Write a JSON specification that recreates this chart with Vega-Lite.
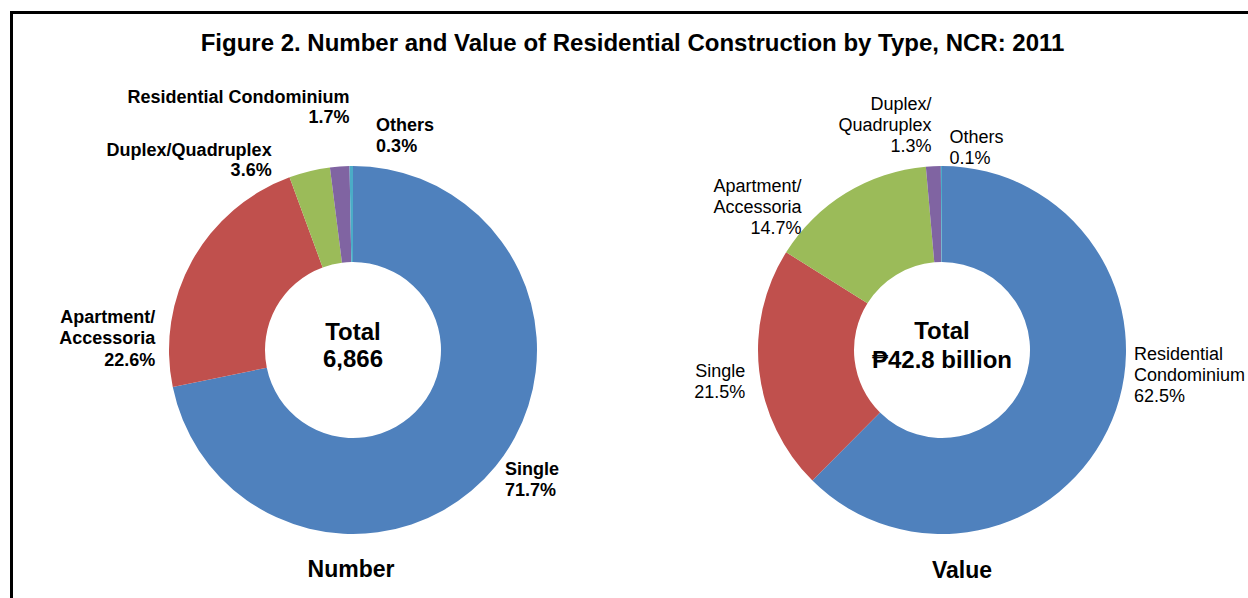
{
  "$schema": "https://vega.github.io/schema/vega-lite/v6.json",
  "width": 1237,
  "height": 586,
  "autosize": {"type": "none"},
  "padding": {"left": 11, "top": 12, "right": 0, "bottom": 0},
  "background": "white",
  "title": {
    "text": "Figure 2. Number and Value of Residential Construction by Type, NCR: 2011",
    "font": "Liberation Sans",
    "fontSize": 24,
    "fontWeight": "bold",
    "color": "#000000",
    "anchor": "middle",
    "frame": "group",
    "baseline": "alphabetic",
    "offset": -39,
    "dx": 3,
    "dy": 23.5
  },
  "config": {
    "view": {"stroke": null},
    "font": "Liberation Sans",
    "text": {"font": "Liberation Sans", "color": "#000000"}
  },
  "datasets": {
    "number": [
      {"type": "Single", "pct": 71.7, "label": "Single\n71.7%"},
      {"type": "Apartment/Accessoria", "pct": 22.6, "label": "Apartment/\nAccessoria\n22.6%"},
      {"type": "Duplex/Quadruplex", "pct": 3.6, "label": "Duplex/Quadruplex\n3.6%"},
      {"type": "Residential Condominium", "pct": 1.7, "label": "Residential Condominium\n1.7%"},
      {"type": "Others", "pct": 0.3, "label": "Others\n0.3%"}
    ],
    "value": [
      {"type": "Residential Condominium", "pct": 62.5, "label": "Residential\nCondominium\n62.5%"},
      {"type": "Single", "pct": 21.5, "label": "Single\n21.5%"},
      {"type": "Apartment/Accessoria", "pct": 14.7, "label": "Apartment/\nAccessoria\n14.7%"},
      {"type": "Duplex/Quadruplex", "pct": 1.3, "label": "Duplex/\nQuadruplex\n1.3%"},
      {"type": "Others", "pct": 0.1, "label": "Others\n0.1%"}
    ]
  },
  "layer": [
    {
      "data": {"name": "number"},
      "encoding": {
        "x": {"datum": "Number", "type": "nominal",
          "scale": {"type": "point", "domain": ["Number", "Value"], "padding": 0.55008, "align": 0.52778},
          "axis": {"orient": "top", "domain": true, "domainColor": "#000000", "domainWidth": 3, "domainCap": "square", "ticks": false, "labels": false, "grid": false, "title": null}},
        "y": {"datum": "pie", "type": "nominal",
          "scale": {"type": "point", "domain": ["pie", "caption"], "padding": 0.78791, "align": 0.94282},
          "axis": {"orient": "left", "domain": true, "domainColor": "#000000", "domainWidth": 3, "domainCap": "square", "ticks": false, "labels": false, "grid": false, "title": null}}
      },
      "layer": [
        {
          "mark": {"type": "arc", "innerRadius": 88, "outerRadius": 184},
          "encoding": {
            "theta": {"field": "pct", "type": "quantitative", "stack": true},
            "order": {"field": "pct", "sort": "descending"},
            "color": {"field": "type", "type": "nominal", "legend": null,
              "scale": {"domain": ["Single", "Apartment/Accessoria", "Duplex/Quadruplex", "Residential Condominium", "Others"],
                "range": ["#4F81BD", "#C0504D", "#9BBB59", "#8064A2", "#4BACC6"]}}
          }
        },
        {
          "mark": {"type": "text", "radius": 200, "align": "left", "baseline": "alphabetic", "dx": -3, "dy": -1, "lineBreak": "\n", "lineHeight": 20.5, "fontSize": 18, "fontWeight": "bold", "font": "Liberation Sans"},
          "encoding": {
            "theta": {"field": "pct", "type": "quantitative", "stack": true},
            "order": {"field": "pct", "sort": "descending"},
            "detail": {"field": "type"},
            "text": {"condition": {"test": "datum.type === 'Single'", "field": "label", "type": "nominal"}, "value": ""}
          }
        },
        {
          "mark": {"type": "text", "radius": 200, "align": "right", "baseline": "alphabetic", "dx": -23, "dy": 70, "lineBreak": "\n", "lineHeight": 21.5, "fontSize": 18, "fontWeight": "bold", "font": "Liberation Sans"},
          "encoding": {
            "theta": {"field": "pct", "type": "quantitative", "stack": true},
            "order": {"field": "pct", "sort": "descending"},
            "detail": {"field": "type"},
            "text": {"condition": {"test": "datum.type === 'Apartment/Accessoria'", "field": "label", "type": "nominal"}, "value": ""}
          }
        },
        {
          "mark": {"type": "text", "radius": 200, "align": "right", "baseline": "alphabetic", "dx": -34, "dy": 0, "lineBreak": "\n", "lineHeight": 20, "fontSize": 18, "fontWeight": "bold", "font": "Liberation Sans"},
          "encoding": {
            "theta": {"field": "pct", "type": "quantitative", "stack": true},
            "order": {"field": "pct", "sort": "descending"},
            "detail": {"field": "type"},
            "text": {"condition": {"test": "datum.type === 'Duplex/Quadruplex'", "field": "label", "type": "nominal"}, "value": ""}
          }
        },
        {
          "mark": {"type": "text", "radius": 200, "align": "right", "baseline": "alphabetic", "dx": 11, "dy": -48, "lineBreak": "\n", "lineHeight": 20.5, "fontSize": 18, "fontWeight": "bold", "font": "Liberation Sans"},
          "encoding": {
            "theta": {"field": "pct", "type": "quantitative", "stack": true},
            "order": {"field": "pct", "sort": "descending"},
            "detail": {"field": "type"},
            "text": {"condition": {"test": "datum.type === 'Residential Condominium'", "field": "label", "type": "nominal"}, "value": ""}
          }
        },
        {
          "mark": {"type": "text", "radius": 200, "align": "left", "baseline": "alphabetic", "dx": 25, "dy": -19, "lineBreak": "\n", "lineHeight": 20.5, "fontSize": 18, "fontWeight": "bold", "font": "Liberation Sans"},
          "encoding": {
            "theta": {"field": "pct", "type": "quantitative", "stack": true},
            "order": {"field": "pct", "sort": "descending"},
            "detail": {"field": "type"},
            "text": {"condition": {"test": "datum.type === 'Others'", "field": "label", "type": "nominal"}, "value": ""}
          }
        },
        {
          "data": {"values": [{"caption": "Number", "total": "Total\n6,866"}]},
          "layer": [
            {
              "mark": {"type": "text", "align": "center", "baseline": "alphabetic", "dy": -10, "lineBreak": "\n", "lineHeight": 27, "fontSize": 24, "fontWeight": "bold", "font": "Liberation Sans"},
              "encoding": {"text": {"field": "total", "type": "nominal"}}
            },
            {
              "mark": {"type": "text", "align": "center", "baseline": "alphabetic", "dx": -2, "dy": -1, "fontSize": 23, "fontWeight": "bold", "font": "Liberation Sans"},
              "encoding": {
                "y": {"datum": "caption", "type": "nominal",
                  "scale": {"type": "point", "domain": ["pie", "caption"], "padding": 0.78791, "align": 0.94282},
                  "axis": {"orient": "left", "domain": true, "domainColor": "#000000", "domainWidth": 3, "domainCap": "square", "ticks": false, "labels": false, "grid": false, "title": null}},
                "text": {"field": "caption", "type": "nominal"}
              }
            }
          ]
        }
      ]
    },
    {
      "data": {"name": "value"},
      "encoding": {
        "x": {"datum": "Value", "type": "nominal",
          "scale": {"type": "point", "domain": ["Number", "Value"], "padding": 0.55008, "align": 0.52778},
          "axis": {"orient": "top", "domain": true, "domainColor": "#000000", "domainWidth": 3, "domainCap": "square", "ticks": false, "labels": false, "grid": false, "title": null}},
        "y": {"datum": "pie", "type": "nominal",
          "scale": {"type": "point", "domain": ["pie", "caption"], "padding": 0.78791, "align": 0.94282},
          "axis": {"orient": "left", "domain": true, "domainColor": "#000000", "domainWidth": 3, "domainCap": "square", "ticks": false, "labels": false, "grid": false, "title": null}}
      },
      "layer": [
        {
          "mark": {"type": "arc", "innerRadius": 88, "outerRadius": 184},
          "encoding": {
            "theta": {"field": "pct", "type": "quantitative", "stack": true},
            "order": {"field": "pct", "sort": "descending"},
            "color": {"field": "type", "type": "nominal", "legend": null,
              "scale": {"domain": ["Residential Condominium", "Single", "Apartment/Accessoria", "Duplex/Quadruplex", "Others"],
                "range": ["#4F81BD", "#C0504D", "#9BBB59", "#8064A2", "#4BACC6"]}}
          }
        },
        {
          "mark": {"type": "text", "radius": 200, "align": "left", "baseline": "alphabetic", "dx": 7, "dy": -66, "lineBreak": "\n", "lineHeight": 21, "fontSize": 18, "font": "Liberation Sans"},
          "encoding": {
            "theta": {"field": "pct", "type": "quantitative", "stack": true},
            "order": {"field": "pct", "sort": "descending"},
            "detail": {"field": "type"},
            "text": {"condition": {"test": "datum.type === 'Residential Condominium'", "field": "label", "type": "nominal"}, "value": ""}
          }
        },
        {
          "mark": {"type": "text", "radius": 200, "align": "right", "baseline": "alphabetic", "dx": 2, "dy": 4, "lineBreak": "\n", "lineHeight": 21, "fontSize": 18, "font": "Liberation Sans"},
          "encoding": {
            "theta": {"field": "pct", "type": "quantitative", "stack": true},
            "order": {"field": "pct", "sort": "descending"},
            "detail": {"field": "type"},
            "text": {"condition": {"test": "datum.type === 'Single'", "field": "label", "type": "nominal"}, "value": ""}
          }
        },
        {
          "mark": {"type": "text", "radius": 200, "align": "right", "baseline": "alphabetic", "dx": -36, "dy": 13, "lineBreak": "\n", "lineHeight": 21, "fontSize": 18, "font": "Liberation Sans"},
          "encoding": {
            "theta": {"field": "pct", "type": "quantitative", "stack": true},
            "order": {"field": "pct", "sort": "descending"},
            "detail": {"field": "type"},
            "text": {"condition": {"test": "datum.type === 'Apartment/Accessoria'", "field": "label", "type": "nominal"}, "value": ""}
          }
        },
        {
          "mark": {"type": "text", "radius": 200, "align": "right", "baseline": "alphabetic", "dx": -1, "dy": -40, "lineBreak": "\n", "lineHeight": 21, "fontSize": 18, "font": "Liberation Sans"},
          "encoding": {
            "theta": {"field": "pct", "type": "quantitative", "stack": true},
            "order": {"field": "pct", "sort": "descending"},
            "detail": {"field": "type"},
            "text": {"condition": {"test": "datum.type === 'Duplex/Quadruplex'", "field": "label", "type": "nominal"}, "value": ""}
          }
        },
        {
          "mark": {"type": "text", "radius": 200, "align": "left", "baseline": "alphabetic", "dx": 8, "dy": -7, "lineBreak": "\n", "lineHeight": 21, "fontSize": 18, "font": "Liberation Sans"},
          "encoding": {
            "theta": {"field": "pct", "type": "quantitative", "stack": true},
            "order": {"field": "pct", "sort": "descending"},
            "detail": {"field": "type"},
            "text": {"condition": {"test": "datum.type === 'Others'", "field": "label", "type": "nominal"}, "value": ""}
          }
        },
        {
          "data": {"values": [{"caption": "Value", "total": "Total\n₱42.8 billion"}]},
          "layer": [
            {
              "mark": {"type": "text", "align": "center", "baseline": "alphabetic", "dy": -11, "lineBreak": "\n", "lineHeight": 28.5, "fontSize": 24, "fontWeight": "bold", "font": "Liberation Sans"},
              "encoding": {"text": {"field": "total", "type": "nominal"}}
            },
            {
              "mark": {"type": "text", "align": "center", "baseline": "alphabetic", "dx": 20, "fontSize": 23, "fontWeight": "bold", "font": "Liberation Sans"},
              "encoding": {
                "y": {"datum": "caption", "type": "nominal",
                  "scale": {"type": "point", "domain": ["pie", "caption"], "padding": 0.78791, "align": 0.94282},
                  "axis": {"orient": "left", "domain": true, "domainColor": "#000000", "domainWidth": 3, "domainCap": "square", "ticks": false, "labels": false, "grid": false, "title": null}},
                "text": {"field": "caption", "type": "nominal"}
              }
            }
          ]
        }
      ]
    }
  ],
  "resolve": {"scale": {"theta": "independent", "color": "independent"}}
}
